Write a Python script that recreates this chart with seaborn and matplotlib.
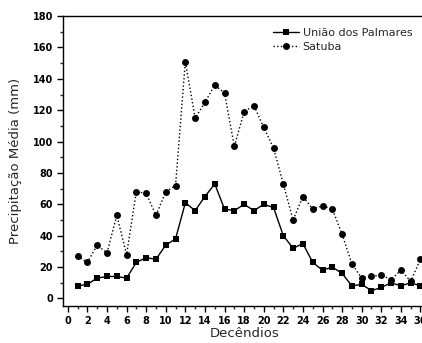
import matplotlib
matplotlib.use("Agg")
import matplotlib.pyplot as plt
import seaborn as sns
import pandas as pd
from matplotlib.ticker import MultipleLocator

decendios = list(range(1, 37))
uniao = [8, 9, 13, 14, 14, 13, 23, 26, 25, 34, 38, 61, 56, 65, 73, 57, 56, 60,
         56, 60, 58, 40, 32, 35, 23, 18, 20, 16, 8, 9, 5, 7, 10, 8, 10, 8]
satuba = [27, 23, 34, 29, 53, 28, 68, 67, 53, 68, 72, 151, 115, 125, 136, 131, 97, 119,
          123, 109, 96, 73, 50, 65, 57, 59, 57, 41, 22, 13, 14, 15, 12, 18, 11, 25]

sns.set_theme(style="ticks")
plt.rcParams['font.family'] = ['DejaVu Sans']

df = pd.DataFrame({"Decêndio": decendios, "União dos Palmares": uniao, "Satuba": satuba})

fig = plt.figure(figsize=(4.22, 3.43), dpi=100)
ax = fig.add_axes([0.149, 0.107, 0.859, 0.846])

sns.lineplot(data=df, x="Decêndio", y="União dos Palmares", ax=ax, color="black",
             marker="s", markersize=4, markeredgewidth=0, linewidth=1.0,
             linestyle="-", label="União dos Palmares")
sns.lineplot(data=df, x="Decêndio", y="Satuba", ax=ax, color="black",
             marker="o", markersize=5, markeredgewidth=0, linewidth=1.0,
             linestyle=":", label="Satuba")

ax.set_xlim(-0.5, 36.5)
ax.set_ylim(-5, 180)
ax.xaxis.set_major_locator(MultipleLocator(2))
ax.xaxis.set_minor_locator(MultipleLocator(1))
ax.yaxis.set_major_locator(MultipleLocator(20))
ax.yaxis.set_minor_locator(MultipleLocator(10))
ax.tick_params(axis="both", which="major", direction="out", length=4, width=1,
               labelsize=7, colors="black", pad=3)
ax.tick_params(axis="both", which="minor", direction="out", length=2.5, width=1)
for lab in ax.get_xticklabels() + ax.get_yticklabels():
    lab.set_fontweight("bold")
for s in ax.spines.values():
    s.set_color("black")
    s.set_linewidth(1.0)

ax.set_xlabel("Decêndios", fontsize=9.5, labelpad=1)
ax.set_ylabel("Precipitação Média (mm)", fontsize=9.5, labelpad=8)

leg = ax.legend(loc="upper right", bbox_to_anchor=(0.985, 0.985), frameon=False,
                prop={"size": 8}, handlelength=2.4,
                handletextpad=0.3, labelspacing=0.35, borderaxespad=0.3)

fig.savefig("out.png", dpi=100)
